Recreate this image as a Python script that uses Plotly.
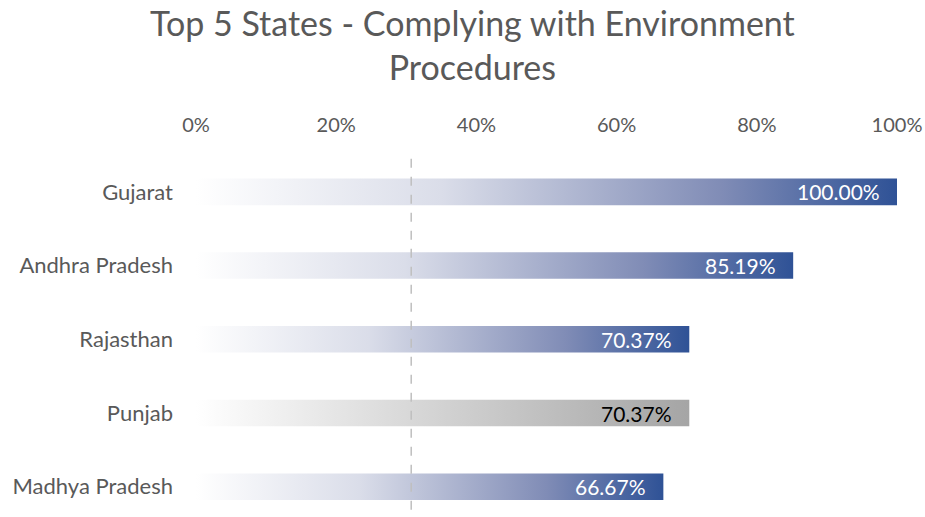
"""Top 5 states complying with environment procedures."""

import plotly.graph_objects as go

STATES = ["Gujarat", "Andhra Pradesh", "Rajasthan", "Punjab", "Madhya Pradesh"]
COMPLIANCE = [1.0, 0.8519, 0.7037, 0.7037, 0.6667]
HIGHLIGHT = [False, False, False, True, False]
REFERENCE_LINE = 0.307
TICK_VALUES = [0, 0.2, 0.4, 0.6, 0.8, 1.0]
TICK_LABELS = ["0%", "20%", "40%", "60%", "80%", "100%"]

FONT = "Lato"
GREY_TEXT = "#595959"
BLUE_SCALE = [[0, "rgba(255,255,255,1)"], [0.35, "rgb(218,221,233)"], [0.75, "rgb(128,140,182)"], [1, "#2F5296"]]
GREY_SCALE = [[0, "rgba(255,255,255,1)"], [1, "#A5A5A5"]]
HALF_BAR = 0.18

fig = go.Figure()
for i, (state, value, hl) in enumerate(zip(STATES, COMPLIANCE, HIGHLIGHT)):
    fig.add_trace(
        go.Scatter(
            x=[0, value, value, 0, 0],
            y=[i - HALF_BAR, i - HALF_BAR, i + HALF_BAR, i + HALF_BAR, i - HALF_BAR],
            mode="lines",
            line=dict(width=0),
            fill="toself",
            fillgradient=dict(type="horizontal", colorscale=GREY_SCALE if hl else BLUE_SCALE),
            name=state,
            hovertemplate=f"{state}<br>{value:.2%}<extra></extra>",
            showlegend=False,
        )
    )
    fig.add_annotation(
        x=value,
        y=i,
        text=f"{value * 100:.2f}%",
        showarrow=False,
        xanchor="right",
        xshift=-15,
        font=dict(family=FONT, size=21, color="black" if hl else "white"),
    )

fig.add_shape(
    type="line",
    x0=REFERENCE_LINE,
    x1=REFERENCE_LINE,
    y0=-0.45,
    y1=4.5,
    line=dict(color="#BFBFBF", width=1.5, dash="dash"),
    layer="above",
)

# title as an annotation so both lines sit where the reference has them
fig.add_annotation(
    text="Top 5 States - Complying with Environment<br>Procedures",
    xref="paper",
    yref="paper",
    x=0.395,
    y=1.304,
    xanchor="center",
    yanchor="middle",
    showarrow=False,
    font=dict(family=FONT, size=34, color=GREY_TEXT),
)

fig.update_layout(
    width=925,
    height=517,
    margin=dict(l=196, r=28, t=155, b=0),
    paper_bgcolor="white",
    plot_bgcolor="white",
    font=dict(family=FONT, color=GREY_TEXT),
)
fig.update_xaxes(
    side="top",
    range=[0, 1.0],
    tickvals=TICK_VALUES,
    ticktext=TICK_LABELS,
    tickfont=dict(size=20, color=GREY_TEXT),
    showgrid=False,
    zeroline=False,
    showline=False,
    ticklabelstandoff=18,
    automargin=False,
)
fig.update_yaxes(
    range=[4.41, -0.5],
    tickvals=list(range(len(STATES))),
    ticktext=STATES,
    tickfont=dict(size=22, color=GREY_TEXT),
    showgrid=False,
    zeroline=False,
    showline=False,
    ticklabelstandoff=22,
    automargin=False,
)

# drop the default body margin so the figure fills the window exactly
fig.write_html(
    "out.html",
    config={"displayModeBar": False},
    post_script="document.body.style.margin='0';",
)
